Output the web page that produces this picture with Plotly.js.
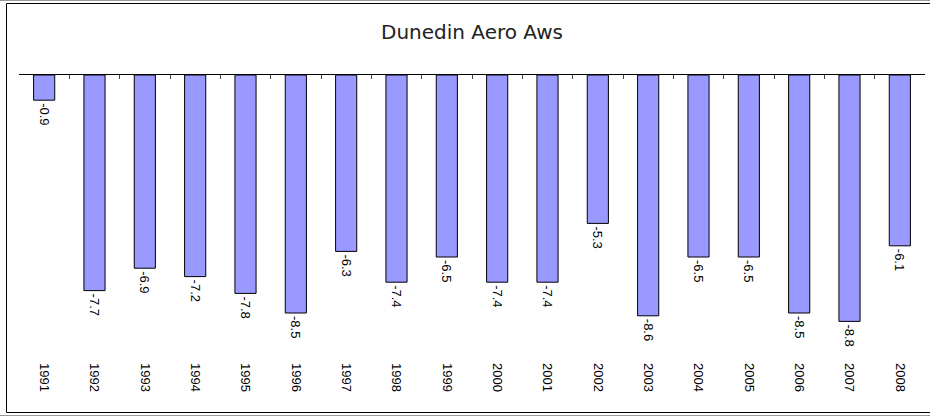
<!DOCTYPE html>
<html>
<head>
<meta charset="utf-8">
<script src="https://cdn.plot.ly/plotly-3.0.1.min.js"></script>
<style>
html,body{margin:0;padding:0;background:#fff;}
#chart{width:930px;height:417px;}
</style>
</head>
<body>
<div id="chart"></div>
<script>
const years = ["1991","1992","1993","1994","1995","1996","1997","1998","1999","2000","2001","2002","2003","2004","2005","2006","2007","2008"];
const values = [-0.9,-7.7,-6.9,-7.2,-7.8,-8.5,-6.3,-7.4,-6.5,-7.4,-7.4,-5.3,-8.6,-6.5,-6.5,-8.5,-8.8,-6.1];
const labels = values.map(v => v.toFixed(1));
const chartTitle = "Dunedin Aero Aws";

const W = 930, H = 417, ml = 19, mr = 5, mt = 75, mb = 55;
const pw = W - ml - mr, ph = H - mt - mb;
const px = x => (x - ml) / pw;
const py = y => 1 - (y - mt) / ph;

const traces = [
  {
    type: 'bar', x: years, y: values, xaxis: 'x', yaxis: 'y',
    marker: {color: '#9999FF', line: {color: '#000000', width: 1}},
    text: labels, textposition: 'outside', textangle: 90,
    textfont: {family: 'Liberation Sans, Arial, sans-serif', size: 13, color: '#000'},
    constraintext: 'none', cliponaxis: false, hoverinfo: 'skip'
  },
  {
    type: 'scatter', mode: 'markers', x: years, y: values, xaxis: 'x2', yaxis: 'y',
    marker: {opacity: 0}, hoverinfo: 'skip', showlegend: false
  }
];

const layout = {
  width: W, height: H,
  margin: {l: ml, r: mr, t: mt, b: mb},
  paper_bgcolor: '#ffffff', plot_bgcolor: '#ffffff',
  showlegend: false,
  bargap: 0.58,
  title: {
    text: chartTitle, x: 0.5, xref: 'paper', xanchor: 'center',
    y: 1 - 32 / H, yref: 'container', yanchor: 'middle',
    font: {family: 'DejaVu Sans, sans-serif', size: 20, color: '#222'}
  },
  xaxis: {
    type: 'category', categoryarray: years, range: [-0.5, years.length - 0.5],
    showline: false, showgrid: false, zeroline: false, ticks: '',
    tickangle: 90, side: 'bottom',
    tickfont: {family: 'Liberation Sans, Arial, sans-serif', size: 13, color: '#000'}
  },
  xaxis2: {
    type: 'category', categoryarray: years, range: [-0.5, years.length - 0.5],
    overlaying: 'x', anchor: 'y', side: 'top',
    showline: true, linecolor: '#000', linewidth: 1,
    ticks: 'inside', tickson: 'boundaries', ticklen: 4, tickcolor: '#444', tickwidth: 1,
    showticklabels: false, showgrid: false, zeroline: false
  },
  yaxis: {
    range: [-10.25, 0], visible: false, showgrid: false, zeroline: false
  },
  shapes: [
    {type: 'rect', xref: 'paper', yref: 'paper', x0: px(6.5), x1: px(935), y0: py(412.5), y1: py(3.5),
     line: {color: '#000', width: 1}, fillcolor: 'rgba(0,0,0,0)'},
    {type: 'line', xref: 'paper', yref: 'paper', x0: px(0), x1: px(935), y0: py(0.5), y1: py(0.5),
     line: {color: '#999', width: 1}},
    {type: 'line', xref: 'paper', yref: 'paper', x0: px(0), x1: px(935), y0: py(415.5), y1: py(415.5),
     line: {color: '#999', width: 1}}
  ]
};

Plotly.newPlot('chart', traces, layout, {staticPlot: true, displayModeBar: false});
</script>
</body>
</html>
